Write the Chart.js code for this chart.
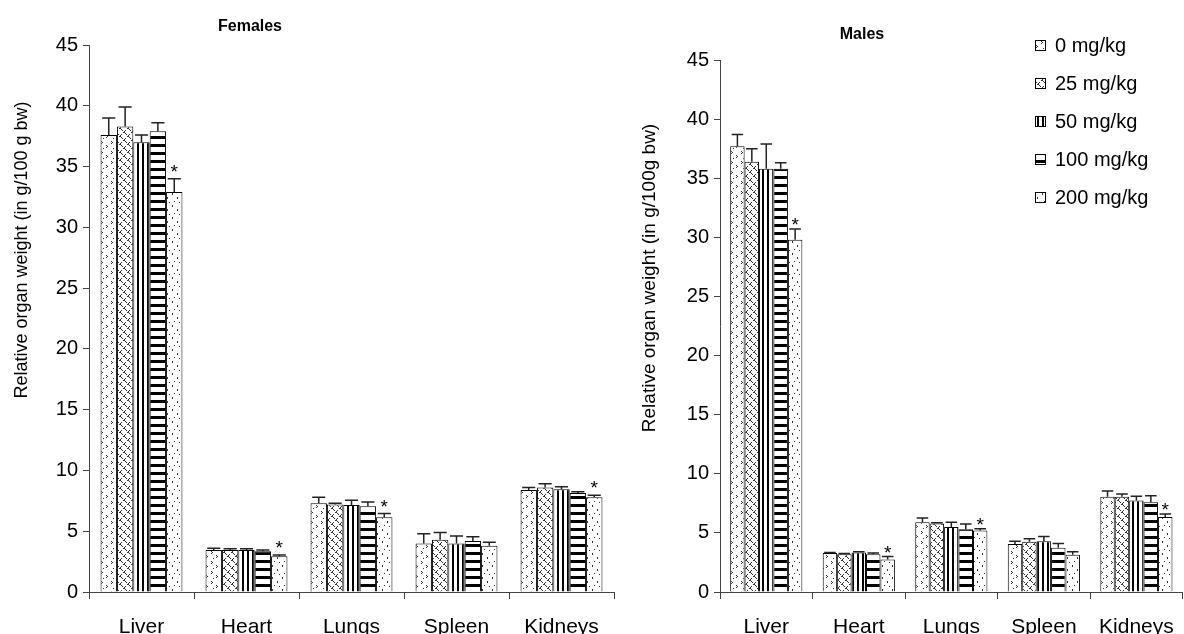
<!DOCTYPE html>
<html><head><meta charset="utf-8">
<script src="https://cdn.jsdelivr.net/npm/chart.js@4.4.0/dist/chart.umd.min.js"></script>
<style>
html,body{margin:0;padding:0;width:1184px;height:634px;overflow:hidden;background:#fff;}
canvas{position:absolute;top:0;}
#cf{left:0;}
#cm{left:610px;}
</style></head><body>
<canvas id="cf" width="620" height="634"></canvas>
<canvas id="cm" width="580" height="634"></canvas>
<script>
// ---------- data ----------
const organs = ['Liver', 'Heart', 'Lungs', 'Spleen', 'Kidneys'];
const doses = ['0 mg/kg', '25 mg/kg', '50 mg/kg', '100 mg/kg', '200 mg/kg'];
const yTicks = [0, 5, 10, 15, 20, 25, 30, 35, 40, 45];

// Females: mean per dose (organs in order)
const f0   = [37.6, 3.45, 7.3, 4.0, 8.4];
const f25  = [38.3, 3.45, 7.2, 4.3, 8.6];
const f50  = [37.0, 3.45, 7.15, 4.0, 8.45];
const f100 = [37.9, 3.35, 7.05, 4.2, 8.15];
const f200 = [32.9, 2.95, 6.15, 3.8, 7.8];
// Females: error (upper) per dose
const fe0   = [1.4, 0.15, 0.5, 0.8, 0.2];
const fe25  = [1.6, 0.1, 0.1, 0.6, 0.3];
const fe50  = [0.6, 0.1, 0.4, 0.6, 0.2];
const fe100 = [0.7, 0.1, 0.35, 0.35, 0.1];
const fe200 = [1.1, 0.1, 0.3, 0.3, 0.15];

// Males: mean per dose
const m0   = [37.7, 3.3, 5.9, 4.05, 8.05];
const m25  = [36.4, 3.2, 5.8, 4.25, 8.05];
const m50  = [35.8, 3.35, 5.5, 4.3, 7.75];
const m100 = [35.8, 3.2, 5.3, 3.75, 7.6];
const m200 = [29.8, 2.75, 5.2, 3.15, 6.35];
// Males: error (upper) per dose
const me0   = [1.0, 0.05, 0.35, 0.25, 0.5];
const me25  = [1.1, 0.05, 0.05, 0.25, 0.25];
const me50  = [2.1, 0.05, 0.4, 0.4, 0.35];
const me100 = [0.5, 0.1, 0.45, 0.35, 0.55];
const me200 = [0.9, 0.25, 0.15, 0.25, 0.25];

// significance (*) on the 200 mg/kg bar, per organ
const sigF = [true, true, true, false, true];
const sigM = [true, true, true, false, true];

// ---------- patterns ----------
const FONT = "'Liberation Sans', Arial, sans-serif";
function makePattern(w, h, draw) {
  const c = document.createElement('canvas');
  c.width = w; c.height = h;
  const g = c.getContext('2d');
  g.fillStyle = '#fff'; g.fillRect(0, 0, w, h);
  draw(g);
  return g.createPattern(c, 'repeat');
}
const patterns = [
  makePattern(10, 10, g => { g.fillStyle = '#333';
    [[1,1],[2,2],[1,3],[6,5],[7,6],[6,7],[3,8]].forEach(p => g.fillRect(p[0], p[1], 1, 1)); }),
  makePattern(8, 8, g => { g.fillStyle = '#333';
    for (let i = 0; i < 8; i++) { if (i % 4 !== 3) g.fillRect(i, i, 1, 1); if (i % 4 !== 1) g.fillRect(7 - i, i, 1, 1); } }),
  makePattern(5, 1, g => { g.fillStyle = '#000'; g.fillRect(2, 0, 2, 1); }),
  makePattern(1, 8, g => { g.fillStyle = '#000'; g.fillRect(0, 0, 1, 3); }),
  makePattern(10, 12, g => { g.fillStyle = '#333';
    [[2,1],[2,2],[7,5],[7,6],[4,9],[9,10]].forEach(p => g.fillRect(p[0], p[1], 1, 1)); })
];

// ---------- chart factory ----------
function makeChart(id, means, errs, sig, o) {
  const datasets = doses.map((d, i) => ({
    label: d, data: means[i], errs: errs[i],
    backgroundColor: patterns[i], borderColor: '#000', borderWidth: 1,
    categoryPercentage: 0.78, barPercentage: 1.0
  }));
  const extras = {
    id: 'extras',
    afterDatasetsDraw(chart) {
      const ctx = chart.ctx, ys = chart.scales.y;
      ctx.save();
      chart.data.datasets.forEach((ds, di) => {
        const meta = chart.getDatasetMeta(di);
        meta.data.forEach((bar, k) => {
          const top = ys.getPixelForValue(ds.data[k]);
          const et = ys.getPixelForValue(ds.data[k] + ds.errs[k]);
          const cw = bar.width * 0.8;
          ctx.strokeStyle = '#222'; ctx.lineWidth = 1.5;
          ctx.beginPath();
          ctx.moveTo(bar.x, top); ctx.lineTo(bar.x, et);
          ctx.moveTo(bar.x - cw / 2, et); ctx.lineTo(bar.x + cw / 2, et);
          ctx.stroke();
          if (di === doses.length - 1 && sig[k]) {
            ctx.fillStyle = '#000'; ctx.font = '19px ' + FONT;
            ctx.textAlign = 'center'; ctx.textBaseline = 'alphabetic';
            ctx.fillText('*', bar.x, et + o.starOff);
          }
        });
      });
      ctx.restore();
    },
    afterDraw(chart) {
      const ctx = chart.ctx;
      ctx.save();
      ctx.fillStyle = '#000';
      ctx.font = 'bold 16px ' + FONT;
      ctx.textAlign = 'center'; ctx.textBaseline = 'middle';
      ctx.fillText(o.title, o.titleX, o.titleY);
      ctx.font = o.yTitleSize + 'px ' + FONT;
      ctx.translate(o.yTitleX, o.yTitleY);
      ctx.rotate(-Math.PI / 2);
      ctx.fillText(o.yTitle, 0, 0);
      ctx.restore();
      if (o.legend) {
        ctx.save();
        chart.data.datasets.forEach((ds, i) => {
          const y = o.legend.y + i * o.legend.dy;
          ctx.fillStyle = ds.backgroundColor;
          ctx.fillRect(o.legend.x, y - 5, 11, 11);
          ctx.strokeStyle = '#000'; ctx.lineWidth = 1;
          ctx.strokeRect(o.legend.x + 0.5, y - 4.5, 10, 10);
          ctx.fillStyle = '#000'; ctx.font = '20px ' + FONT;
          ctx.textAlign = 'left'; ctx.textBaseline = 'middle';
          ctx.fillText(ds.label, o.legend.x + 20, y + 1);
        });
        ctx.restore();
      }
    }
  };
  return new Chart(document.getElementById(id), {
    type: 'bar',
    data: { labels: organs, datasets },
    options: {
      responsive: false, animation: false, devicePixelRatio: 1,
      layout: { padding: { left: 0, right: o.padRight, top: o.padTop, bottom: 0 } },
      plugins: { legend: { display: false }, tooltip: { enabled: false }, title: { display: false } },
      scales: {
        x: {
          grid: { drawOnChartArea: false, drawTicks: true, tickLength: 7, color: '#444', offset: true },
          border: { display: true, color: '#444', width: 1 },
          ticks: { color: '#000', font: { family: FONT, size: 21 }, padding: 16, maxRotation: 0, autoSkip: false },
          afterFit(s) { s.height = 42; }
        },
        y: {
          min: 0, max: 45,
          afterBuildTicks(s) { s.ticks = yTicks.map(v => ({ value: v })); },
          grid: { drawOnChartArea: false, drawTicks: true, tickLength: 6, color: '#444' },
          border: { display: true, color: '#444', width: 1 },
          ticks: { color: '#000', font: { family: FONT, size: 20 }, padding: 5 },
          afterFit(s) { s.width = o.yWidth; }
        }
      }
    },
    plugins: [extras]
  });
}

makeChart('cf', [f0, f25, f50, f100, f200], [fe0, fe25, fe50, fe100, fe200], sigF, {
  yWidth: 89, padRight: 6, padTop: 45, starOff: -1,
  title: 'Females', titleX: 250, titleY: 27,
  yTitle: 'Relative organ weight (in g/100 g bw)', yTitleSize: 18, yTitleX: 22, yTitleY: 250
});
makeChart('cm', [m0, m25, m50, m100, m200], [me0, me25, me50, me100, me200], sigM, {
  yWidth: 110, padRight: 2.5, padTop: 60, starOff: 2,
  title: 'Males', titleX: 252, titleY: 35,
  yTitle: 'Relative organ weight (in g/100g bw)', yTitleSize: 19, yTitleX: 40, yTitleY: 278,
  legend: { x: 425, y: 45, dy: 38 }
});
</script>
</body></html>
